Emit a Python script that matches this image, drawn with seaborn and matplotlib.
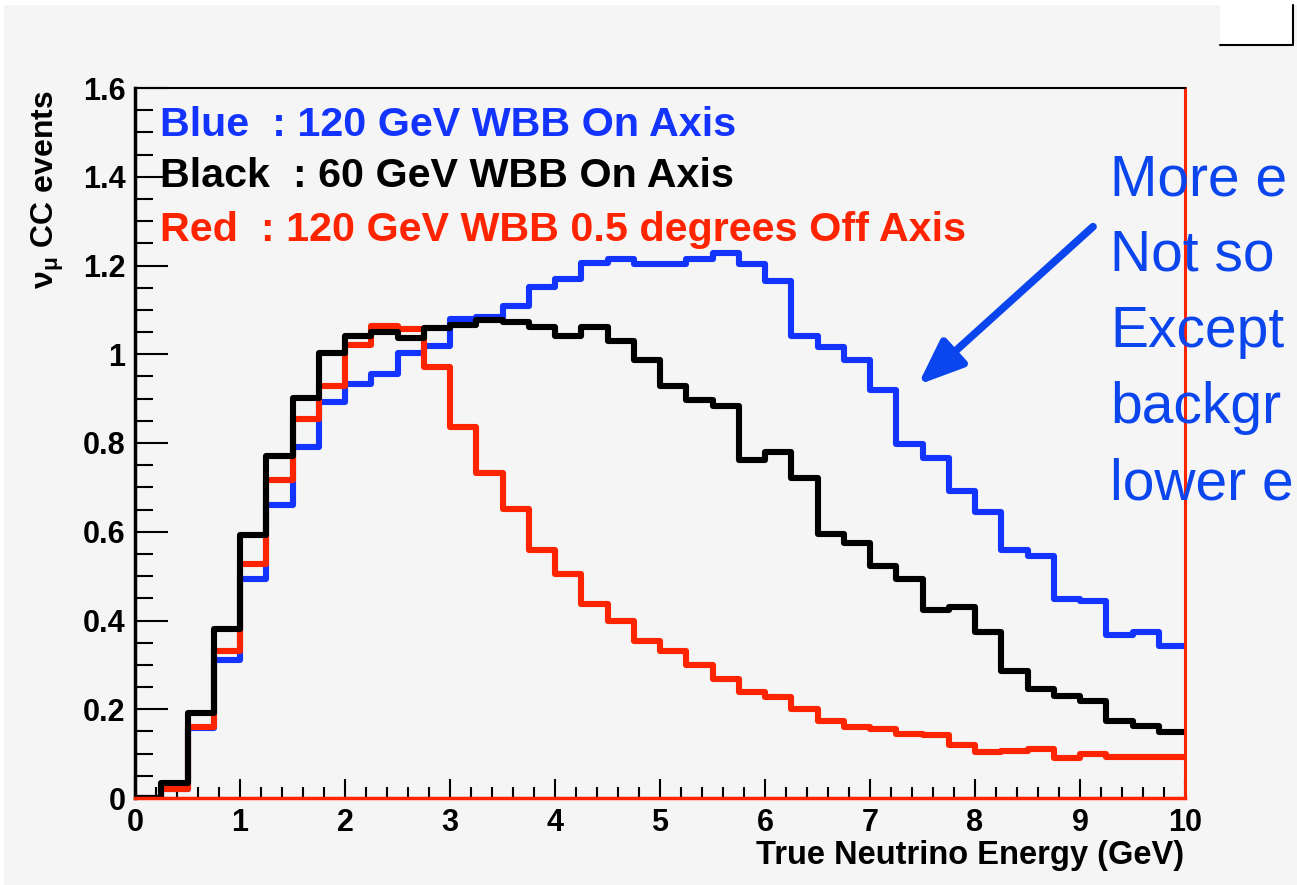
import numpy as np
import pandas as pd
import matplotlib
matplotlib.use("Agg")
import matplotlib.pyplot as plt
import seaborn as sns
from matplotlib.ticker import MultipleLocator
from matplotlib.patches import Rectangle

# ---------------- data ----------------
n_bins = 40
energy_range = (0.0, 10.0)          # 40 bins of 0.25 GeV

blue_120_on = [0.0, 0.02, 0.157, 0.312, 0.494, 0.66, 0.792, 0.892, 0.934, 0.955,
               1.003, 1.018, 1.08, 1.083, 1.109, 1.151, 1.169, 1.205, 1.215, 1.204,
               1.204, 1.215, 1.229, 1.204, 1.164, 1.041, 1.017, 0.986, 0.919, 0.797,
               0.767, 0.691, 0.645, 0.559, 0.546, 0.448, 0.444, 0.367, 0.373, 0.342]

black_60_on = [0.0, 0.033, 0.191, 0.381, 0.592, 0.771, 0.902, 1.003, 1.041, 1.05,
               1.037, 1.06, 1.067, 1.077, 1.072, 1.061, 1.042, 1.061, 1.03, 0.986,
               0.929, 0.896, 0.883, 0.762, 0.779, 0.722, 0.596, 0.575, 0.523, 0.494,
               0.423, 0.431, 0.373, 0.286, 0.245, 0.23, 0.218, 0.174, 0.163, 0.149]

red_120_off = [0.0, 0.02, 0.16, 0.331, 0.528, 0.716, 0.855, 0.929, 1.02, 1.063,
               1.057, 0.971, 0.837, 0.733, 0.651, 0.559, 0.504, 0.438, 0.398, 0.353,
               0.332, 0.30, 0.268, 0.24, 0.227, 0.201, 0.174, 0.159, 0.155, 0.145,
               0.141, 0.119, 0.103, 0.107, 0.111, 0.091, 0.099, 0.093, 0.093, 0.093]

legend_lines = ["Blue  : 120 GeV WBB On Axis",
                "Black  : 60 GeV WBB On Axis",
                "Red  : 120 GeV WBB 0.5 degrees Off Axis"]
note_lines = ["More e", "Not so", "Except", "backgr", "lower e"]
x_label = "True Neutrino Energy (GeV)"
y_label = r"$\mathregular{\nu_{\mu}}$ CC events"

# ---------------- style ----------------
BLUE = "#1333ff"
RED = "#ff2400"
BLACK = "#000000"
NOTE_BLUE = "#0a45ee"
BG = "#f5f5f5"

sns.set_style("ticks")
plt.rcParams["font.family"] = ["Liberation Sans", "DejaVu Sans"]
plt.rcParams["text.color"] = "black"
plt.rcParams["xtick.color"] = "black"
plt.rcParams["ytick.color"] = "black"
plt.rcParams["xtick.labelcolor"] = "black"
plt.rcParams["ytick.labelcolor"] = "black"

W, H = 1297, 885
fig = plt.figure(figsize=(W / 100, H / 100), dpi=100)
fig.patch.set_facecolor("white")
fig.patches.append(Rectangle((4 / W, 0), 1 - 4 / W, 1 - 5 / H, transform=fig.transFigure,
                             facecolor=BG, edgecolor="none", zorder=-10))

ax = fig.add_axes([135 / W, 1 - 798 / H, (1185 - 135) / W, (798 - 88) / H])
ax.set_facecolor(BG)

width = (energy_range[1] - energy_range[0]) / n_bins
centers = energy_range[0] + width * (np.arange(n_bins) + 0.5)
df = pd.DataFrame({
    "energy": np.tile(centers, 3),
    "events": blue_120_on + red_120_off + black_60_on,
    "beam": ["blue"] * n_bins + ["red"] * n_bins + ["black"] * n_bins,
})
for name, col in [("blue", BLUE), ("red", RED), ("black", BLACK)]:
    sub = df[df["beam"] == name]
    sns.histplot(data=sub, x="energy", weights="events", bins=n_bins,
                 binrange=energy_range, element="step", fill=False, color=col,
                 linewidth=4.4, ax=ax)

ax.set_xlim(0, 10)
ax.set_ylim(0, 1.6)
ax.set_xlabel("")
ax.set_ylabel("")
ax.xaxis.set_major_locator(MultipleLocator(1))
ax.xaxis.set_minor_locator(MultipleLocator(0.2))
ax.yaxis.set_major_locator(MultipleLocator(0.2))
ax.yaxis.set_minor_locator(MultipleLocator(0.05))
yt = np.round(np.arange(0, 1.61, 0.2), 1)
ax.set_yticks(yt)
ax.set_yticklabels([("%g" % v) for v in yt])
ax.tick_params(axis="x", which="major", direction="in", length=14, width=1.5, pad=7,
               labelsize=22, colors="black")
ax.tick_params(axis="x", which="minor", direction="in", length=8, width=1.5, colors="black")
ax.tick_params(axis="y", which="major", direction="in", length=24, width=1.5, pad=7,
               labelsize=22, colors="black")
ax.tick_params(axis="y", which="minor", direction="in", length=13, width=1.5, colors="black")
for lab in ax.get_xticklabels() + ax.get_yticklabels():
    lab.set_fontweight("bold")
    lab.set_color("black")

for side in ["top", "right", "bottom", "left"]:
    ax.spines[side].set_visible(True)
    ax.spines[side].set_zorder(10)
ax.spines["left"].set_linewidth(2.5)
ax.spines["left"].set_color("black")
ax.spines["top"].set_linewidth(1.5)
ax.spines["top"].set_color("black")
ax.spines["right"].set_linewidth(2.2)
ax.spines["right"].set_color(RED)
ax.spines["bottom"].set_linewidth(2.5)
ax.spines["bottom"].set_color(RED)

# axis titles
fig.text(1184 / W, 1 - 864 / H, x_label, ha="right", va="baseline",
         fontsize=23.5, fontweight="bold", color="black")
fig.text(48 / W, 1 - 90 / H, y_label, rotation=90, ha="center", va="top",
         fontsize=23, fontweight="bold", color="black")

# legend-like coloured text
for txt, col, base in zip(legend_lines, [BLUE, BLACK, RED], [136, 187, 241]):
    fig.text(160 / W, 1 - base / H, txt, color=col, fontsize=29.7, fontweight="bold",
             va="baseline", ha="left")

# annotation text and arrow
for txt, base in zip(note_lines, [195, 270, 347, 423, 500]):
    fig.text(1110 / W, 1 - base / H, txt, color=NOTE_BLUE, fontsize=41,
             va="baseline", ha="left", zorder=1)

ax.annotate("", xy=(7.457, 0.931), xytext=(9.124, 1.2875), xycoords="data",
            textcoords="data", annotation_clip=False,
            arrowprops=dict(arrowstyle="-|>,head_length=0.55,head_width=0.22",
                            color=NOTE_BLUE, lw=5.5, mutation_scale=50,
                            shrinkA=0, shrinkB=0))

# small stats box at the top right
fig.patches.append(Rectangle((1220 / W, 1 - 45 / H), 73 / W, 40 / H,
                             transform=fig.transFigure, facecolor="white",
                             edgecolor="none", zorder=5))
fig.lines.append(plt.Line2D([1220 / W, 1293 / W, 1293 / W], [1 - 45 / H, 1 - 45 / H, 1 - 5 / H],
                            transform=fig.transFigure, color="black", lw=1.5, zorder=6))

fig.savefig("out.png", dpi=100)
